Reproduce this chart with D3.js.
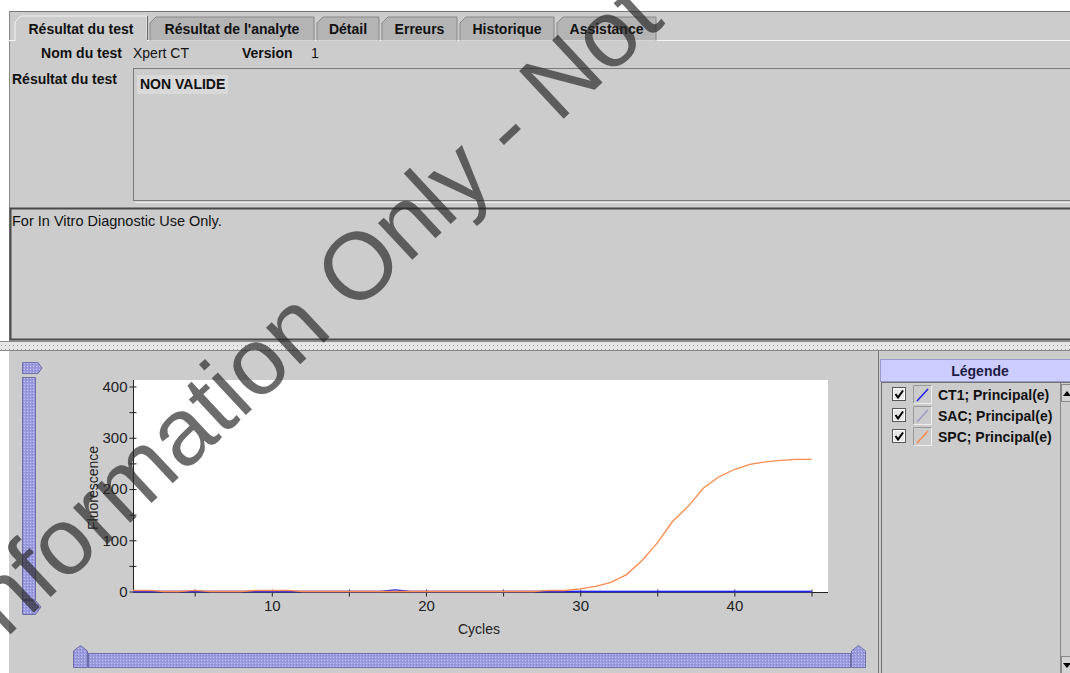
<!DOCTYPE html>
<html>
<head>
<meta charset="utf-8">
<script src="https://cdn.jsdelivr.net/npm/d3@7"></script>
<style>
  html, body { margin: 0; padding: 0; background: #ffffff; }
  svg { display: block; font-family: "Liberation Sans", Arial, sans-serif; }
</style>
</head>
<body>
<script>
// data
var cycles = [1, 2, 3, 4, 5, 6, 7, 8, 9, 10, 11, 12, 13, 14, 15, 16, 17, 18, 19, 20, 21, 22, 23,
  24, 25, 26, 27, 28, 29, 30, 31, 32, 33, 34, 35, 36, 37, 38, 39, 40, 41, 42, 43, 44, 45];
var ct1 = [0, 0, 0, 0, 0, 0, 0, 0, 0, 0, 0, 0, 0, 0, 0, 0, 0, 3, 0, 0, 0, 0, 0,
  0, 0, 0, 0, 0, 0, 0, 0, 0, 0, 0, 0, 0, 0, 0, 0, 0, 0, 0, 0, 0, 0];
var sac = [0, 0, 0, 0, 0, 0, 0, 0, 0, 0, 0, 0, 0, 0, 0, 0, 0, 0, 0, 0, 0, 0, 0,
  0, 0, 0, 0, 0, 0, 0, 0, 0, 0, 0, 0, 0, 0, 0, 0, 0, 0, 0, 0, 0, 0];
var spc = [2, 2, 0, 0, 2, 0, 0, 0, 2, 2, 2, 0, 0, 0, 0, 0, 0, 0, 0, 0, 0, 0, 0,
  0, 0, 0, 0, 2, 2, 5, 10, 18, 33, 60, 95, 137, 166, 202, 224, 238, 248, 253, 256, 258, 258];
var seriesNames = ["CT1; Principal(e)", "SAC; Principal(e)", "SPC; Principal(e)"];
var seriesColors = ["#2020f0", "#9a9acc", "#ff8a4c"];
var yTicks = [0, 50, 100, 150, 200, 250, 300, 350, 400];
var xTicks = [5, 10, 15, 20, 25, 30, 35, 40, 45];
var tabLabels = ["Résultat du test", "Résultat de l'analyte", "Détail", "Erreurs", "Historique", "Assistance"];
var tabEdges = [15, 150, 317, 382, 460, 557, 659];

var W = 1070, H = 673;
var svg = d3.select("body").append("svg")
  .attr("width", W).attr("height", H);

var defs = svg.append("defs");
var pat = defs.append("pattern").attr("id", "hatch")
  .attr("width", 3).attr("height", 3).attr("patternUnits", "userSpaceOnUse");
pat.append("rect").attr("width", 3).attr("height", 3).attr("fill", "#9b9be0");
pat.append("rect").attr("x", 0).attr("y", 0).attr("width", 1).attr("height", 1).attr("fill", "#c4c4f4");
pat.append("rect").attr("x", 2).attr("y", 1).attr("width", 1).attr("height", 1).attr("fill", "#8686cc");
var dots = defs.append("pattern").attr("id", "dots")
  .attr("width", 4).attr("height", 4).attr("patternUnits", "userSpaceOnUse");
dots.append("rect").attr("width", 4).attr("height", 4).attr("fill", "#e6e6e6");
dots.append("rect").attr("x", 1).attr("y", 1).attr("width", 1).attr("height", 1).attr("fill", "#9a9a9a");

// main grey panel
svg.append("rect").attr("x", 9).attr("y", 11).attr("width", W - 9).attr("height", H - 11).attr("fill", "#cccccc");
svg.append("line").attr("x1", 9).attr("x2", W).attr("y1", 11.5).attr("y2", 11.5).attr("stroke", "#777");
svg.append("line").attr("x1", 9.5).attr("x2", 9.5).attr("y1", 11).attr("y2", 345).attr("stroke", "#888");

// tabs
svg.append("line").attr("x1", 9).attr("x2", W).attr("y1", 40.5).attr("y2", 40.5).attr("stroke", "#f4f4f4");
tabLabels.forEach(function(t, i) {
  var x0 = tabEdges[i], x1 = tabEdges[i + 1] - 3, active = i === 0;
  var y0 = active ? 16 : 17;
  svg.append("path")
    .attr("d", "M" + x0 + ",40.5 L" + x0 + "," + (y0 + 6) + " L" + (x0 + 6) + "," + y0 + " L" + x1 + "," + y0 + " L" + x1 + ",40.5")
    .attr("fill", active ? "#cccccc" : "#b4b4b4")
    .attr("stroke", active ? "#f2f2f2" : "#888")
    .attr("stroke-width", 1);
  if (active) {
    svg.append("line").attr("x1", x1 + 0.5).attr("x2", x1 + 0.5).attr("y1", y0).attr("y2", 40).attr("stroke", "#666");
    svg.append("rect").attr("x", x0 + 1).attr("y", 39).attr("width", x1 - x0 - 1).attr("height", 3).attr("fill", "#cccccc");
  }
  svg.append("text").attr("x", (x0 + x1) / 2).attr("y", 34)
    .attr("text-anchor", "middle").attr("font-size", 14).attr("font-weight", "bold").attr("fill", "#111")
    .text(t);
});

// test info rows
function label(x, y, t, bold, anchor, size) {
  return svg.append("text").attr("x", x).attr("y", y)
    .attr("font-size", size || 14).attr("font-weight", bold ? "bold" : "normal")
    .attr("text-anchor", anchor || "start").attr("fill", "#111").text(t);
}
label(122, 58, "Nom du test", true, "end");
label(133, 58, "Xpert CT", false);
label(242, 58, "Version", true);
label(311, 58, "1", false);
label(12, 84, "Résultat du test", true);

// result box
svg.append("rect").attr("x", 133.5).attr("y", 68.5).attr("width", W).attr("height", 132)
  .attr("fill", "#cccccc").attr("stroke", "#7a7a7a");
svg.append("line").attr("x1", 135).attr("x2", W).attr("y1", 202.5).attr("y2", 202.5).attr("stroke", "#eeeeee");
svg.append("rect").attr("x", 137).attr("y", 75).attr("width", 91).attr("height", 19).attr("fill", "#d9d9d9");
label(140, 89, "NON VALIDE", true);

// disclaimer box
svg.append("rect").attr("x", 10.5).attr("y", 208.5).attr("width", W).attr("height", 131)
  .attr("fill", "#cccccc").attr("stroke", "#4a4a4a").attr("stroke-width", 2);
label(12, 226, "For In Vitro Diagnostic Use Only.", false, "start", 14.5);

// split divider
svg.append("rect").attr("x", 0).attr("y", 342).attr("width", W).attr("height", 8).attr("fill", "url(#dots)");
svg.append("line").attr("x1", 0).attr("x2", W).attr("y1", 341.5).attr("y2", 341.5).attr("stroke", "#8a8a8a");
svg.append("line").attr("x1", 0).attr("x2", W).attr("y1", 350.5).attr("y2", 350.5).attr("stroke", "#8a8a8a");
svg.append("rect").attr("x", 0).attr("y", 351).attr("width", 9).attr("height", H - 351).attr("fill", "#ffffff");

// sliders
var slid = svg.append("g").attr("fill", "url(#hatch)").attr("stroke", "#6f6fa8").attr("stroke-width", 1);
slid.append("path").attr("d", "M22.5,362.5 H38 L42,368 L38,373.5 H22.5 Z");
slid.append("rect").attr("x", 22.5).attr("y", 377.5).attr("width", 13).attr("height", 222);
slid.append("path").attr("d", "M22.5,600.5 H35.5 L41,607 L35.5,614.5 H22.5 Z");
slid.append("path").attr("d", "M73.5,667.5 V651 L80.5,645.5 L87.5,651 V667.5 Z");
slid.append("rect").attr("x", 88.5).attr("y", 653.5).attr("width", 762).attr("height", 14);
slid.append("path").attr("d", "M851.5,667.5 V651 L858.5,645.5 L865.5,651 V667.5 Z");

// chart
var x = d3.scaleLinear().domain([1, 45]).range([133, 811.5]);
var y = d3.scaleLinear().domain([0, 400]).range([591.5, 386.5]);

svg.append("rect").attr("x", x(1)).attr("y", 380).attr("width", 828 - x(1)).attr("height", 592 - 380)
  .attr("fill", "#ffffff");

var yAxis = svg.append("g").attr("transform", "translate(133.5,0)")
  .call(d3.axisLeft(y).tickValues(yTicks).tickSize(4).tickSizeOuter(0)
    .tickFormat(function(d) { return d % 100 === 0 ? d : ""; }));
yAxis.select(".domain").attr("d", "M0,380V593").attr("stroke", "#222");
yAxis.selectAll(".tick line").attr("x1", 3).attr("stroke", "#222");
yAxis.selectAll(".tick text").attr("font-size", 15).attr("font-family", "Liberation Sans, Arial, sans-serif")
  .attr("fill", "#222").attr("x", -6);

var xAxis = svg.append("g").attr("transform", "translate(0,592.5)")
  .call(d3.axisBottom(x).tickValues(xTicks).tickSize(4).tickSizeOuter(0)
    .tickFormat(function(d) { return d % 10 === 0 ? d : ""; }));
xAxis.select(".domain").attr("d", "M133,0H828").attr("stroke", "#222");
xAxis.selectAll(".tick line").attr("y1", -3).attr("stroke", "#222");
xAxis.selectAll(".tick text").attr("font-size", 15).attr("font-family", "Liberation Sans, Arial, sans-serif")
  .attr("fill", "#222").attr("y", 8);

svg.append("text").attr("x", 479).attr("y", 634).attr("text-anchor", "middle")
  .attr("font-size", 14).attr("fill", "#222").text("Cycles");
svg.append("text").attr("transform", "translate(98,488) rotate(-90)").attr("text-anchor", "middle")
  .attr("font-size", 14).attr("fill", "#222").text("Fluorescence");

var line = d3.line()
  .x(function(d, i) { return x(cycles[i]); })
  .y(function(d) { return y(d); });
var seriesData = [sac, ct1, spc];
var seriesOrder = [1, 0, 2];
seriesData.forEach(function(s, k) {
  svg.append("path").datum(s).attr("d", line)
    .attr("fill", "none").attr("stroke", seriesColors[seriesOrder[k]]).attr("stroke-width", 1.3);
});

// legend
svg.append("line").attr("x1", 878.5).attr("x2", 878.5).attr("y1", 351).attr("y2", H).attr("stroke", "#777");
svg.append("rect").attr("x", 880.5).attr("y", 359.5).attr("width", 192).attr("height", 22)
  .attr("fill", "#ccccff").attr("stroke", "#9999cc");
svg.append("text").attr("x", 980).attr("y", 376).attr("text-anchor", "middle")
  .attr("font-size", 14).attr("font-weight", "bold").attr("fill", "#1c1c44").text("Légende");
svg.append("rect").attr("x", 881.5).attr("y", 382.5).attr("width", 190).attr("height", 300)
  .attr("fill", "#cccccc").attr("stroke", "#707070");
// scrollbar
svg.append("line").attr("x1", 1060.5).attr("x2", 1060.5).attr("y1", 383).attr("y2", H).attr("stroke", "#888");
svg.append("rect").attr("x", 1061.5).attr("y", 384.5).attr("width", 12).attr("height", 17)
  .attr("fill", "#d4d4d4").attr("stroke", "#888");
svg.append("path").attr("d", "M1063,396 L1067,391 L1071,396 Z").attr("fill", "#000");
svg.append("rect").attr("x", 1061.5).attr("y", 656.5).attr("width", 12).attr("height", 20)
  .attr("fill", "#d4d4d4").attr("stroke", "#888");
svg.append("path").attr("d", "M1063,663 L1067,668 L1071,663 Z").attr("fill", "#000");

var leg = svg.append("g");
seriesNames.forEach(function(n, i) {
  var cy = 395 + i * 21;
  var g = leg.append("g").attr("transform", "translate(0," + cy + ")");
  g.append("rect").attr("x", 892.5).attr("y", -7.5).attr("width", 13).attr("height", 13)
    .attr("fill", "#ffffff").attr("stroke", "#555");
  g.append("rect").attr("x", 893.5).attr("y", -6.5).attr("width", 11).attr("height", 11)
    .attr("fill", "#e8e8e8").attr("stroke", "#ffffff");
  g.append("path").attr("d", "M895.5,-1 L898,2.5 L903,-4.5").attr("fill", "none")
    .attr("stroke", "#000").attr("stroke-width", 2);
  g.append("rect").attr("x", 913.5).attr("y", -9.5).attr("width", 18).attr("height", 18)
    .attr("fill", "#cccccc").attr("stroke", "#eeeeee");
  g.append("path").attr("d", "M913.5,-9.5 H931.5").attr("stroke", "#999");
  g.append("path").attr("d", "M913.5,-9.5 V8.5").attr("stroke", "#999");
  g.append("line").attr("x1", 917).attr("y1", 6).attr("x2", 928).attr("y2", -6)
    .attr("stroke", seriesColors[i]).attr("stroke-width", 1.5);
  g.append("text").attr("x", 938).attr("y", 5).attr("font-size", 14).attr("font-weight", "bold")
    .attr("fill", "#111").text(n);
});

// watermark
svg.append("text").attr("transform", "translate(-137,772) rotate(-43)")
  .attr("font-size", 95).attr("font-family", "Liberation Sans, Arial, sans-serif")
  .attr("fill", "#262626").attr("fill-opacity", 0.68)
  .text("For Information Only - Not For Clinical Use");
</script>
</body>
</html>
